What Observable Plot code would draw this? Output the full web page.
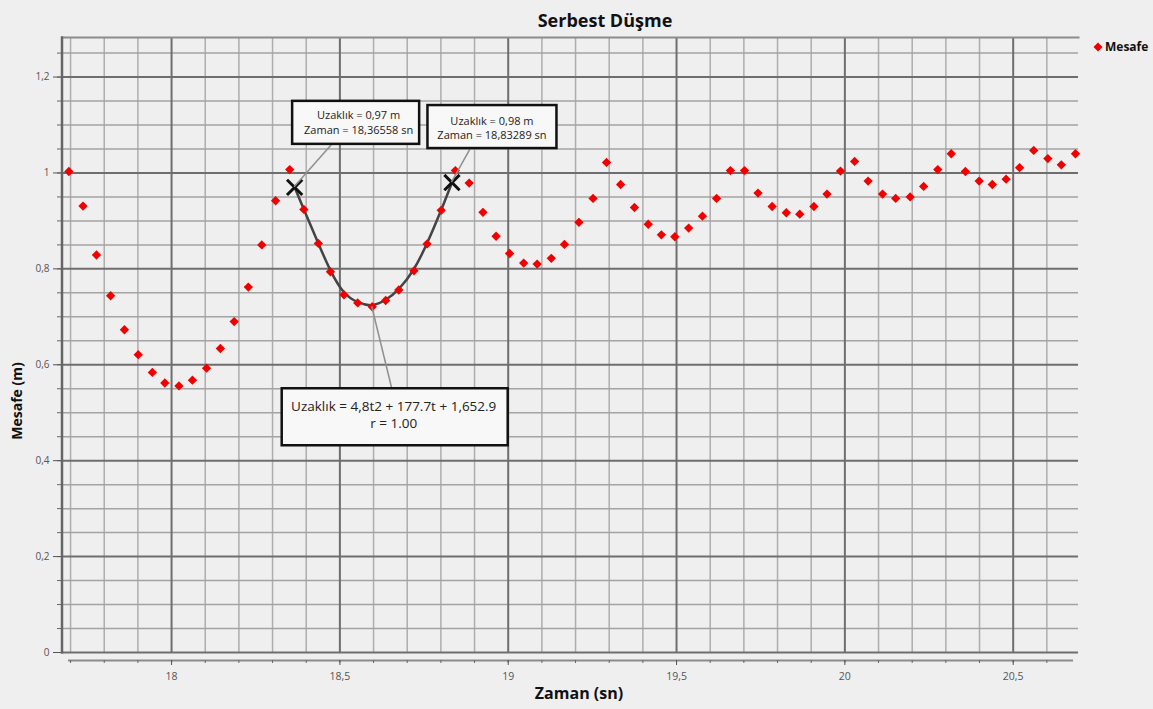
<!DOCTYPE html>
<html><head><meta charset="utf-8">
<script src="https://cdn.jsdelivr.net/npm/d3@7"></script>
<script src="https://cdn.jsdelivr.net/npm/@observablehq/plot@0.6"></script>
<style>
html,body{margin:0;padding:0;background:#efefef;overflow:hidden;}
#wrap{position:relative;width:1153px;height:709px;font-family:"Open Sans",sans-serif;color:#111;}
#title{height:30px;box-sizing:border-box;padding-top:9px;padding-left:57px;line-height:22px;font-size:18px;font-weight:700;text-align:center;}
#legend{position:absolute;left:1092px;top:39px;font-size:12px;font-weight:700;line-height:16px;white-space:nowrap;}
#legend svg{vertical-align:-2px;margin-right:1px;}
</style></head>
<body>
<div id="wrap">
  <div id="title">Serbest Düşme</div>
  <div id="legend"><svg width="12" height="12"><path d="M6,1.5L10.5,6L6,10.5L1.5,6Z" fill="#f20000"/></svg>Mesafe</div>
  <div id="chart"></div>
</div>
<script>
// Zaman (sn)
const times = [17.695,17.737,17.777,17.819,17.860,17.901,17.943,17.980,18.022,18.062,18.104,18.145,18.186,18.228,18.268,18.309,18.351,
  18.393,18.436,18.472,18.512,18.553,18.596,18.636,18.675,18.720,18.759,18.801,18.843,
  18.884,18.925,18.964,19.004,19.046,19.086,19.128,19.167,19.210,
  19.252,19.292,19.334,19.375,19.416,19.455,19.495,19.536,19.577,19.619,19.660,19.702,19.742,19.784,
  19.826,19.866,19.908,19.947,19.987,20.029,20.069,20.112,20.151,20.194,20.234,20.276,20.316,20.358,20.399,20.438,20.479,20.519,20.561,20.603,20.643,20.685];
// Mesafe (m)
const distances = [1.003,0.931,0.829,0.744,0.673,0.621,0.584,0.562,0.556,0.568,0.593,0.634,0.690,0.762,0.850,0.942,1.007,
  0.924,0.853,0.794,0.746,0.729,0.721,0.734,0.756,0.796,0.852,0.922,1.005,
  0.979,0.918,0.868,0.832,0.812,0.810,0.822,0.851,0.897,
  0.947,1.022,0.976,0.928,0.893,0.871,0.867,0.885,0.910,0.947,1.005,1.005,0.958,0.930,
  0.917,0.914,0.930,0.956,1.004,1.024,0.983,0.956,0.947,0.950,0.972,1.007,1.040,1.003,0.983,0.976,0.987,1.011,1.047,1.030,1.017,1.040];
// Seçilen noktalar (X işaretleri)
const markerTimes = [18.36558, 18.83289];
const markerDistances = [0.97, 0.98];
const markerLabels = [["Uzaklık = 0,97 m", "Zaman = 18,36558 sn"], ["Uzaklık = 0,98 m", "Zaman = 18,83289 sn"]];
const fitLabel = ["Uzaklık = 4,8t2 + 177.7t + 1,652.9", "r = 1.00"];
const xTitle = "Zaman (sn)";
const yTitle = "Mesafe (m)";
// Eksen değerleri
const xMajor = [18, 18.5, 19, 19.5, 20, 20.5];
const xMinor = [17.7,17.8,17.9,18.1,18.2,18.3,18.4,18.6,18.7,18.8,18.9,19.1,19.2,19.3,19.4,19.6,19.7,19.8,19.9,20.1,20.2,20.3,20.4,20.6];
const yMajor = [0, 0.2, 0.4, 0.6, 0.8, 1, 1.2];
const yMinor = [0.05,0.1,0.15,0.25,0.3,0.35,0.45,0.5,0.55,0.65,0.7,0.75,0.85,0.9,0.95,1.05,1.1,1.15,1.25];

const points = times.map((t, i) => ({t, v: distances[i]}));
const markers = markerTimes.map((t, i) => ({t, v: markerDistances[i]}));
const curvePts = [markers[0], ...points.filter(d => d.t > markerTimes[0] && d.t < markerTimes[1]), markers[1]];
const fmt = d => String(d).replace(".", ",");

const chart = Plot.plot({
  width: 1153, height: 679,
  marginTop: 7, marginBottom: 57, marginLeft: 63, marginRight: 75,
  style: {background: "#efefef", fontFamily: "Open Sans, sans-serif", overflow: "visible"},
  x: {domain: [17.679, 20.694], label: null},
  y: {domain: [0, 1.2825], label: null},
  marks: [
    Plot.ruleX(xMinor, {stroke: "#adadad", strokeWidth: 1.5}),
    Plot.ruleY(yMinor, {stroke: "#a3a3a3", strokeWidth: 1.5}),
    Plot.ruleX(xMajor, {stroke: "#6e6e6e", strokeWidth: 2}),
    Plot.ruleY(yMajor, {stroke: "#6e6e6e", strokeWidth: 2}),
    Plot.frame({anchor: "top", stroke: "#8c8c8c", strokeWidth: 2}),
    Plot.frame({anchor: "left", stroke: "#666", strokeWidth: 2.5, dx: -1.5}),
    Plot.axisY([...yMinor, ...yMajor], {tickSize: 4, tickFormat: () => "", dx: -2, color: "#666", label: null}),
    Plot.axisY(yMajor, {tickSize: 8, tickPadding: 4, tickFormat: fmt, dx: -2, fontSize: 10, color: "#555", label: null}),
    Plot.ruleY([0], {dy: 8, stroke: "#8c8c8c", strokeWidth: 2, insetLeft: 5, insetRight: 5}),
    Plot.axisX([...xMinor, ...xMajor], {tickSize: 3, tickFormat: () => "", dy: 8, color: "#666", label: null}),
    Plot.axisX(xMajor, {tickSize: 5, tickPadding: 7, tickFormat: fmt, dy: 8, fontSize: 10.5, color: "#555", label: null}),
    Plot.line(curvePts, {x: "t", y: "v", curve: "basis", stroke: "#444", strokeWidth: 2.5}),
    Plot.dot(points, {x: "t", y: "v", symbol: "diamond2", r: 4.2, fill: "#f20000", stroke: null}),
    Plot.dot(markers, {x: "t", y: "v", symbol: "times", r: 7, stroke: "#111", strokeWidth: 3})
  ]
});
document.getElementById("chart").appendChild(chart);

const sx = chart.scale("x"), sy = chart.scale("y");
const svg = d3.select(chart);

// Axis titles
svg.append("text").attr("x", 579).attr("y", 663).attr("text-anchor", "middle").attr("dominant-baseline", "central")
  .attr("font-size", 16).attr("font-weight", 700).attr("fill", "#111").text(xTitle);
svg.append("text").attr("transform", "translate(16,371) rotate(-90)").attr("text-anchor", "middle").attr("dominant-baseline", "central")
  .attr("font-size", 14).attr("font-weight", 700).attr("fill", "#111").text(yTitle);

// Annotation boxes, positioned from the plot's scales
const ann = svg.append("g").attr("font-family", "Open Sans, sans-serif");
function callout(px, py, box, lead, lines, fs, lineYs) {
  ann.append("line").attr("x1", px).attr("y1", py).attr("x2", px + lead[0]).attr("y2", py + lead[1])
    .attr("stroke", "#8f8f8f").attr("stroke-width", 1.5);
  const g = ann.append("g").attr("transform", `translate(${px + box[0]},${py + box[1]})`);
  g.append("rect").attr("width", box[2]).attr("height", box[3]).attr("fill", "#f8f8f8").attr("stroke", "#111").attr("stroke-width", 2.5);
  lines.forEach((s, i) => g.append("text").attr("x", box[2] / 2 + box[4]).attr("y", lineYs[i])
    .attr("text-anchor", "middle").attr("dominant-baseline", "central").attr("font-size", fs).attr("fill", "#222").text(s));
}
callout(sx.apply(markerTimes[0]), sy.apply(markerDistances[0]), [-2, -86, 127, 43, 3], [38, -43], markerLabels[0], 11, [14, 28.3]);
callout(sx.apply(markerTimes[1]), sy.apply(markerDistances[1]), [-24, -77, 129, 43, 0], [19, -34], markerLabels[1], 11, [15, 29.3]);
const vertex = curvePts.reduce((a, b) => (b.v < a.v ? b : a));
callout(sx.apply(vertex.t), sy.apply(vertex.v), [-90, 82, 226, 57, -1], [20, 82], fitLabel, 13.5, [18, 34.7]);
</script>
</body></html>
